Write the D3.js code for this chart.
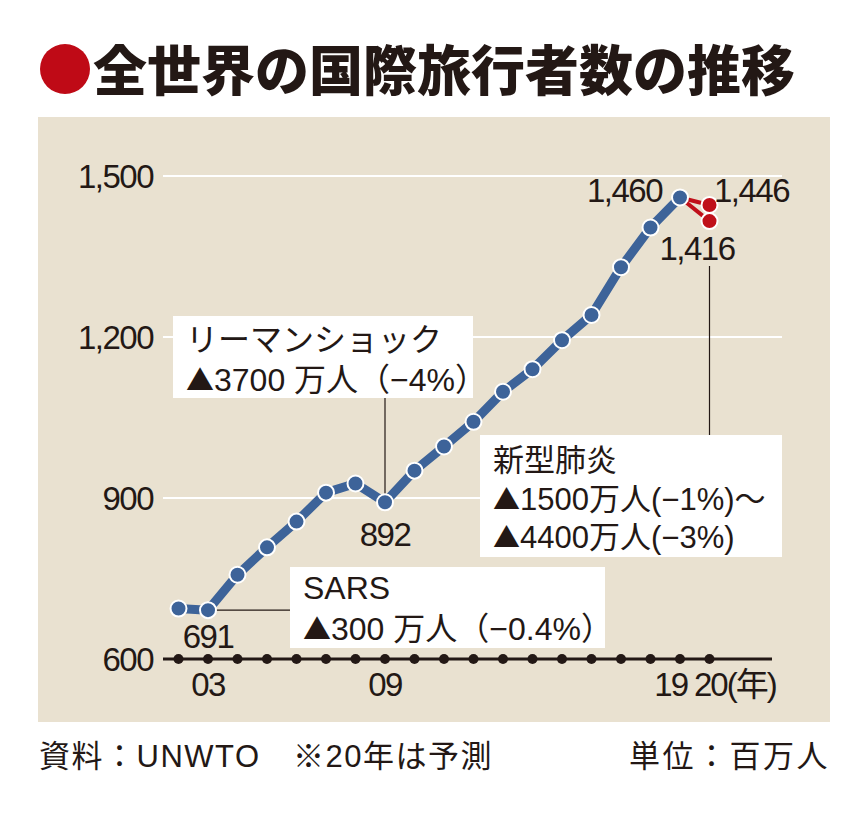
<!DOCTYPE html>
<html>
<head>
<meta charset="utf-8">
<script src="https://cdn.jsdelivr.net/npm/d3@7"></script>
<style>
  body { margin: 0; background: #fff; }
  svg { display: block; }
</style>
</head>
<body>
<svg id="chart"></svg>
<script>
const width = 868;
const height = 813;

// data (百万人)
const years = [2002, 2003, 2004, 2005, 2006, 2007, 2008, 2009, 2010, 2011,
               2012, 2013, 2014, 2015, 2016, 2017, 2018, 2019];
const travelers = [694, 691, 757, 808, 856, 910, 927, 892, 951, 996,
                   1042, 1098, 1140, 1194, 1241, 1330, 1404, 1460];
const forecast2020 = [1446, 1416];
const yTicks = [600, 900, 1200, 1500];
const xTickLabels = [{ year: 2003, text: "03" }, { year: 2009, text: "09" }];

const latin = "'Liberation Sans', 'Noto Sans CJK JP', sans-serif";
const jp = "'Noto Sans CJK JP', sans-serif";
const ink = "#231815";

const svg = d3.select("#chart")
    .attr("width", width)
    .attr("height", height)
    .attr("viewBox", `0 0 ${width} ${height}`);

// title
svg.append("circle")
    .attr("cx", 65).attr("cy", 69).attr("r", 25)
    .attr("fill", "#bf0a16");
svg.append("text")
    .attr("x", 93).attr("y", 91)
    .attr("font-family", jp)
    .attr("font-weight", 900)
    .attr("font-size", 54)
    .attr("fill", ink)
    .text("全世界の国際旅行者数の推移");

// panel
svg.append("rect")
    .attr("x", 38).attr("y", 117)
    .attr("width", 792).attr("height", 605)
    .attr("fill", "#e9e1d0");

var x = d3.scaleLinear().domain([2002, 2020]).range([178.5, 709.5]);
var y = d3.scaleLinear().domain([600, 1500]).range([659, 176]);

// gridlines
svg.append("g").selectAll("line")
    .data(yTicks.filter(d => d > 600))
    .enter().append("line")
    .attr("x1", 163).attr("x2", 782)
    .attr("y1", d => y(d)).attr("y2", d => y(d))
    .attr("stroke", "#fff")
    .attr("stroke-width", 2);

// y labels
svg.append("g").selectAll("text")
    .data(yTicks)
    .enter().append("text")
    .attr("x", 153)
    .attr("y", d => y(d) + 12)
    .attr("text-anchor", "end")
    .attr("font-family", latin)
    .attr("font-size", 33)
    .attr("letter-spacing", -1.5)
    .attr("fill", ink)
    .text(d => d3.format(",")(d));

// annotation leaders
svg.append("line")
    .attr("x1", x(2009)).attr("x2", x(2009))
    .attr("y1", 398).attr("y2", y(892) - 7)
    .attr("stroke", ink).attr("stroke-width", 1.2);
svg.append("line")
    .attr("x1", x(2003) + 8).attr("x2", 292)
    .attr("y1", y(691)).attr("y2", y(691))
    .attr("stroke", ink).attr("stroke-width", 1.2);
svg.append("line")
    .attr("x1", x(2020)).attr("x2", x(2020))
    .attr("y1", 266).attr("y2", 436)
    .attr("stroke", ink).attr("stroke-width", 1.2);

// annotation boxes; "▲" drawn with the CJK font so it is full size
function box(x0, y0, w, h, lines, lineYs, size) {
    svg.append("rect")
        .attr("x", x0).attr("y", y0)
        .attr("width", w).attr("height", h)
        .attr("fill", "#fff");
    lines.forEach((t, i) => {
        const txt = svg.append("text")
            .attr("x", x0 + 13).attr("y", lineYs[i])
            .attr("font-family", latin)
            .attr("font-size", size)
            .attr("fill", ink);
        t.split(/(▲)/).filter(s => s.length).forEach(part => {
            const sp = txt.append("tspan").text(part);
            if (part === "▲") sp.attr("font-family", jp).attr("font-size", size - 4);
        });
    });
}
box(173, 316, 300, 82, ["リーマンショック", "▲3700 万人（−4%）"], [351, 391], 32);
box(290, 567, 315, 81, ["SARS", "▲300 万人（−0.4%）"], [599, 640], 32);
box(480, 435, 302, 122, ["新型肺炎", "▲1500万人(−1%)〜", "▲4400万人(−3%)"], [471, 510, 548], 31);

// x axis
svg.append("line")
    .attr("x1", 163).attr("x2", 772)
    .attr("y1", y(600)).attr("y2", y(600))
    .attr("stroke", ink).attr("stroke-width", 3);
svg.append("g").selectAll("circle")
    .data(years.concat([2020]))
    .enter().append("circle")
    .attr("cx", d => x(d)).attr("cy", y(600))
    .attr("r", 5)
    .attr("fill", ink);

svg.append("g").selectAll("text")
    .data(xTickLabels)
    .enter().append("text")
    .attr("x", d => x(d.year)).attr("y", 696)
    .attr("text-anchor", "middle")
    .attr("font-family", latin)
    .attr("font-size", 33)
    .attr("letter-spacing", -1.5)
    .attr("fill", ink)
    .text(d => d.text);
svg.append("text")
    .attr("x", 687).attr("y", 696)
    .attr("text-anchor", "end")
    .attr("font-family", latin).attr("font-size", 33).attr("letter-spacing", -2)
    .attr("fill", ink).text("19");
svg.append("text")
    .attr("x", 694).attr("y", 696)
    .attr("font-family", latin).attr("font-size", 33).attr("letter-spacing", -2)
    .attr("fill", ink).text("20(年)");

// forecast (red)
const red = "#c0101a";
svg.append("g").selectAll("line")
    .data(forecast2020)
    .enter().append("line")
    .attr("x1", x(2019)).attr("y1", y(travelers[travelers.length - 1]))
    .attr("x2", x(2020)).attr("y2", d => y(d))
    .attr("stroke", red).attr("stroke-width", 4);

// main line
var line = d3.line()
    .x((d, i) => x(years[i]))
    .y(d => y(d));
svg.append("path")
    .datum(travelers)
    .attr("d", line)
    .attr("fill", "none")
    .attr("stroke", "#3d6399")
    .attr("stroke-width", 9)
    .attr("stroke-linejoin", "round");
svg.append("g").selectAll("circle")
    .data(travelers)
    .enter().append("circle")
    .attr("cx", (d, i) => x(years[i]))
    .attr("cy", d => y(d))
    .attr("r", 8)
    .attr("fill", "#3d6399")
    .attr("stroke", "#fff")
    .attr("stroke-width", 2);

svg.append("g").selectAll("circle")
    .data(forecast2020)
    .enter().append("circle")
    .attr("cx", x(2020))
    .attr("cy", d => y(d))
    .attr("r", 8)
    .attr("fill", red)
    .attr("stroke", "#fff")
    .attr("stroke-width", 2);

// value labels
function label(t, lx, ly, anchor) {
    svg.append("text")
        .attr("x", lx).attr("y", ly)
        .attr("text-anchor", anchor)
        .attr("font-family", latin)
        .attr("font-size", 33)
        .attr("letter-spacing", -1.5)
        .attr("fill", ink)
        .text(t);
}
label("691", x(2003), 648, "middle");
label("892", x(2009), 546, "middle");
label("1,460", 662, 202, "end");
label("1,446", 714, 202, "start");
label("1,416", 697, 260, "middle");

// footer
svg.append("text")
    .attr("x", 39).attr("y", 767)
    .attr("font-family", latin)
    .attr("font-size", 31)
    .attr("letter-spacing", 1.5)
    .attr("fill", ink)
    .text("資料：UNWTO　※20年は予測");
svg.append("text")
    .attr("x", 830).attr("y", 767)
    .attr("text-anchor", "end")
    .attr("font-family", latin)
    .attr("font-size", 31)
    .attr("letter-spacing", 2.5)
    .attr("fill", ink)
    .text("単位：百万人");
</script>
</body>
</html>
